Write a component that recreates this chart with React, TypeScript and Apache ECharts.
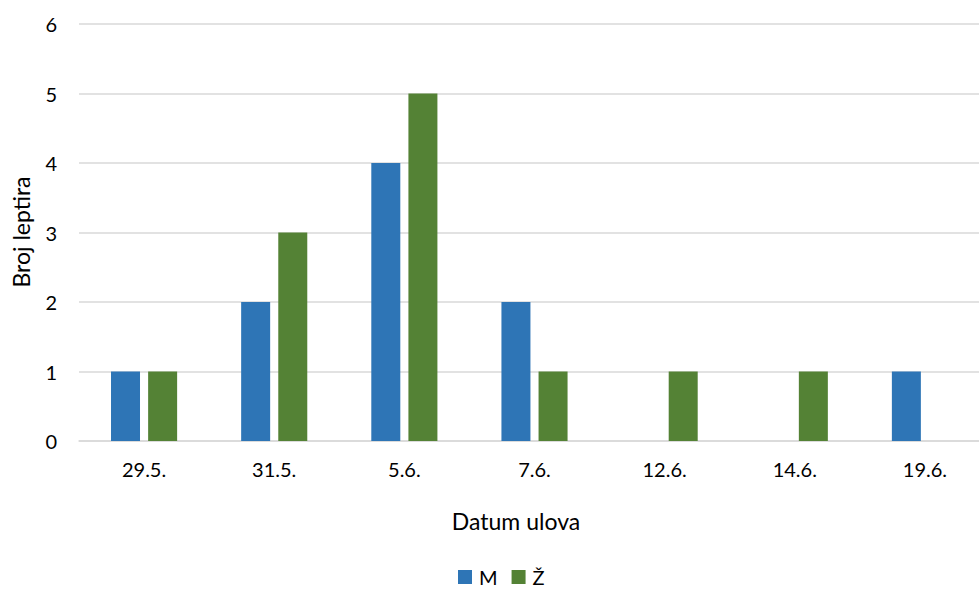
import React, { useEffect, useRef } from "react";
import * as echarts from "echarts";

const categories = ["29.5.", "31.5.", "5.6.", "7.6.", "12.6.", "14.6.", "19.6."];
const maleValues = [1, 2, 4, 2, 0, 0, 1];
const femaleValues = [1, 3, 5, 1, 1, 1, 0];
const seriesNames = ["M", "Ž"];
const xTitle = "Datum ulova";
const yTitle = "Broj leptira";

const FONT = "Lato, 'Open Sans', sans-serif";

export default function App() {
  const ref = useRef<HTMLDivElement>(null);
  useEffect(() => {
    if (!ref.current) return;
    const chart = echarts.init(ref.current, null, { renderer: "svg" });
    chart.setOption({
      animation: false,
      backgroundColor: "#ffffff",
      textStyle: { fontFamily: FONT },
      grid: { left: 79, right: 0, top: 24, bottom: 149, containLabel: false },
      legend: {
        data: seriesNames,
        left: 458,
        top: 566,
        itemWidth: 14,
        itemHeight: 14,
        itemGap: 14,
        padding: 0,
        icon: "rect",
        textStyle: { fontFamily: FONT, fontSize: 20, lineHeight: 22, color: "#000", padding: [0, 0, 0, 2] },
      },
      xAxis: {
        type: "category",
        data: categories,
        axisLine: { show: true, lineStyle: { color: "#D9D9D9", width: 1.5 } },
        axisTick: { show: false },
        axisLabel: { fontFamily: FONT, fontSize: 20, color: "#000", margin: 18 },
      },
      yAxis: {
        type: "value",
        min: 0,
        max: 6,
        interval: 1,
        axisLine: { show: false },
        axisTick: { show: false },
        splitLine: { lineStyle: { color: "#D9D9D9", width: 1.5 } },
        axisLabel: { fontFamily: FONT, fontSize: 20, color: "#000", margin: 22 },
      },
      graphic: [
        {
          type: "text",
          x: 516,
          y: 521,
          style: {
            text: xTitle,
            fontFamily: FONT,
            fontSize: 23,
            fill: "#000",
            align: "center",
            verticalAlign: "middle",
          },
        },
        {
          type: "text",
          x: 21,
          y: 232,
          rotation: Math.PI / 2,
          style: {
            text: yTitle,
            fontFamily: FONT,
            fontSize: 23,
            fill: "#000",
            align: "center",
            verticalAlign: "middle",
          },
        },
      ],
      series: [
        {
          name: seriesNames[0],
          type: "bar",
          data: maleValues,
          barWidth: 29,
          barGap: "28%",
          itemStyle: { color: "#2E75B6" },
        },
        {
          name: seriesNames[1],
          type: "bar",
          data: femaleValues,
          barWidth: 29,
          barGap: "28%",
          itemStyle: { color: "#548235" },
        },
      ],
    });
    return () => chart.dispose();
  }, []);
  return (
    <div
      ref={ref}
      style={{ position: "fixed", left: 0, top: 0, width: 990, height: 590 }}
    />
  );
}
